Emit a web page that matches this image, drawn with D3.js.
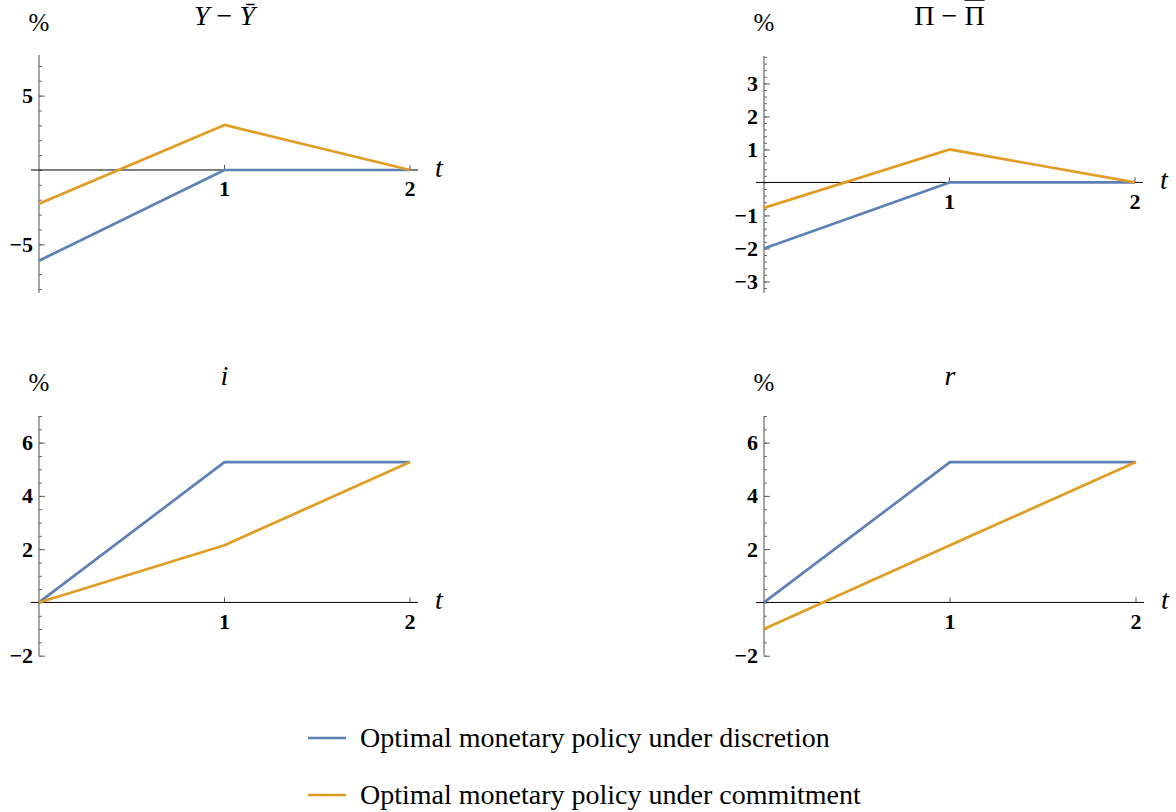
<!DOCTYPE html>
<html>
<head>
<meta charset="utf-8">
<script src="https://cdn.jsdelivr.net/npm/d3@7"></script>
<style>
  html, body { margin: 0; padding: 0; background: #fff; }
  svg { display: block; }
</style>
</head>
<body>
<svg id="chart" width="1176" height="812"></svg>
<script>
// ---------------- data ----------------
const periods = [0, 1, 2];
const xTickValues = [1, 2];
const seriesNames = ["Optimal monetary policy under discretion", "Optimal monetary policy under commitment"];

// Output gap Y - Ybar (%)
const outputGapDiscretion = [-6.1, 0, 0];
const outputGapCommitment = [-2.27, 3.03, 0];
// Inflation Pi - Pibar (%)
const inflationDiscretion = [-2.0, 0, 0];
const inflationCommitment = [-0.77, 1.0, 0];
// Nominal interest rate i (%)
const nominalRateDiscretion = [0, 5.27, 5.27];
const nominalRateCommitment = [0, 2.15, 5.27];
// Real interest rate r (%)
const realRateDiscretion = [0, 5.27, 5.27];
const realRateCommitment = [-1.0, 2.15, 5.27];

// y tick labels per panel
const yTicksOutput = [-5, 5];
const yTicksInflation = [-3, -2, -1, 1, 2, 3];
const yTicksRates = [-2, 2, 4, 6];

// ---------------- styling / layout ----------------
const colors = ["#5e81b5", "#e19c24"];
const SERIF = '"Liberation Serif"';

function txt(sel, size, weight, fstyle) {
  return sel.style("font-family", SERIF)
    .style("font-size", size + "px")
    .style("font-weight", weight || "normal")
    .style("font-style", fstyle || "normal");
}

// title parts: [text, italic, overline]
const panels = [
  { title: [["Y", true, false], [" − ", false, false], ["Ȳ", true, false]],
    series: [outputGapDiscretion, outputGapCommitment],
    yMajor: yTicksOutput, minorStep: 1, minorFrom: -8, minorTo: 7,
    x0: 39, x2: 410, yDomain: [-8.27, 7.73], yRange: [293, 55], titleY: 25, pctY: 31 },
  { title: [["Π", false, false], [" − ", false, false], ["Π", false, true]],
    series: [inflationDiscretion, inflationCommitment],
    yMajor: yTicksInflation, minorStep: 0.2, minorFrom: -3.2, minorTo: 3.8,
    x0: 764, x2: 1135, yDomain: [-3.35, 3.83], yRange: [293, 56], titleY: 25, pctY: 31 },
  { title: [["i", true, false]], series: [nominalRateDiscretion, nominalRateCommitment],
    yMajor: yTicksRates, minorStep: 0.5, minorFrom: -2, minorTo: 7,
    x0: 39, x2: 410, yDomain: [-2, 7], yRange: [655.7, 416], titleY: 385, pctY: 391 },
  { title: [["r", true, false]], series: [realRateDiscretion, realRateCommitment],
    yMajor: yTicksRates, minorStep: 0.5, minorFrom: -2, minorTo: 7,
    x0: 764, x2: 1136, yDomain: [-2, 7], yRange: [655.7, 416], titleY: 385, pctY: 391 }
];

const svg = d3.select("#chart");

panels.forEach(p => {
  const g = svg.append("g");
  const x = d3.scaleLinear().domain([0, 2]).range([p.x0, p.x2]);
  const y = d3.scaleLinear().domain(p.yDomain).range(p.yRange);
  const y0 = y(0);

  // y axis ticks via d3 axis (ticks inside, to the right)
  const minorTicks = d3.range(Math.round((p.minorTo - p.minorFrom) / p.minorStep) + 1)
    .map(k => +(p.minorFrom + k * p.minorStep).toFixed(3));
  const yAxisG = g.append("g").attr("transform", `translate(${x(0)},0)`);
  yAxisG.call(d3.axisRight(y).tickValues(minorTicks).tickSize(3).tickFormat(""));
  yAxisG.select(".domain").remove();
  yAxisG.selectAll(".tick text").remove();
  yAxisG.selectAll(".tick line").attr("stroke", "#666");
  const yMajorG = g.append("g").attr("transform", `translate(${x(0)},0)`);
  yMajorG.call(d3.axisRight(y).tickValues(p.yMajor).tickSize(6).tickFormat(""));
  yMajorG.select(".domain").remove();
  yMajorG.selectAll(".tick text").remove();
  yMajorG.selectAll(".tick line").attr("stroke", "#666");
  g.append("line")
    .attr("x1", x(0)).attr("x2", x(0))
    .attr("y1", p.yRange[0]).attr("y2", p.yRange[1])
    .attr("stroke", "#6a6a6a").attr("stroke-width", 1.2);
  txt(g.selectAll(".yl").data(p.yMajor).enter().append("text")
    .attr("x", x(0) - 6).attr("y", d => y(d) + 7.5)
    .attr("text-anchor", "end"), 22, "bold")
    .text(d => d < 0 ? "−" + Math.abs(d) : d);

  // x axis (horizontal line at zero)
  g.append("line")
    .attr("x1", x(0) - 8).attr("x2", x(2) + 8)
    .attr("y1", y0).attr("y2", y0)
    .attr("stroke", "#000").attr("stroke-width", 1);
  // x ticks (upward)
  g.selectAll(".xt").data(xTickValues).enter().append("line")
    .attr("x1", d => x(d)).attr("x2", d => x(d))
    .attr("y1", y0).attr("y2", y0 - 5)
    .attr("stroke", "#555").attr("stroke-width", 1);
  txt(g.selectAll(".xl").data(xTickValues).enter().append("text")
    .attr("x", d => x(d)).attr("y", y0 + 26.5)
    .attr("text-anchor", "middle"), 22, "bold")
    .text(d => d);

  // series lines
  const line = d3.line().x((d, i) => x(periods[i])).y(d => y(d));
  p.series.forEach((s, si) => {
    g.append("path")
      .datum(s)
      .attr("d", line)
      .attr("fill", "none")
      .attr("stroke", colors[si])
      .attr("stroke-width", 2.7)
      .attr("stroke-linejoin", "round");
  });

  // "t" label
  txt(g.append("text")
    .attr("x", x(2) + 25).attr("y", y0 + 7), 28, "normal", "italic")
    .text("t");

  // "%" label
  txt(g.append("text")
    .attr("x", x(0)).attr("y", p.pctY)
    .attr("text-anchor", "middle"), 25)
    .text("%");

  // title
  const tt = txt(g.append("text")
    .attr("x", x(1)).attr("y", p.titleY)
    .attr("text-anchor", "middle"), 28);
  p.title.forEach(([s, it, ov]) => {
    tt.append("tspan")
      .style("font-family", SERIF)
      .style("font-style", it ? "italic" : "normal")
      .style("text-decoration", ov ? "overline" : "none")
      .text(s);
  });
});

// ---------------- legend ----------------
const legend = svg.append("g");
const legendY = d3.scalePoint().domain(seriesNames).range([738, 795]);
seriesNames.forEach((name, i) => {
  const yy = legendY(name);
  legend.append("line")
    .attr("x1", 308).attr("x2", 346).attr("y1", yy).attr("y2", yy)
    .attr("stroke", colors[i]).attr("stroke-width", 2.7);
  txt(legend.append("text")
    .attr("x", 360).attr("y", yy + 9), 28)
    .text(name);
});
</script>
</body>
</html>
